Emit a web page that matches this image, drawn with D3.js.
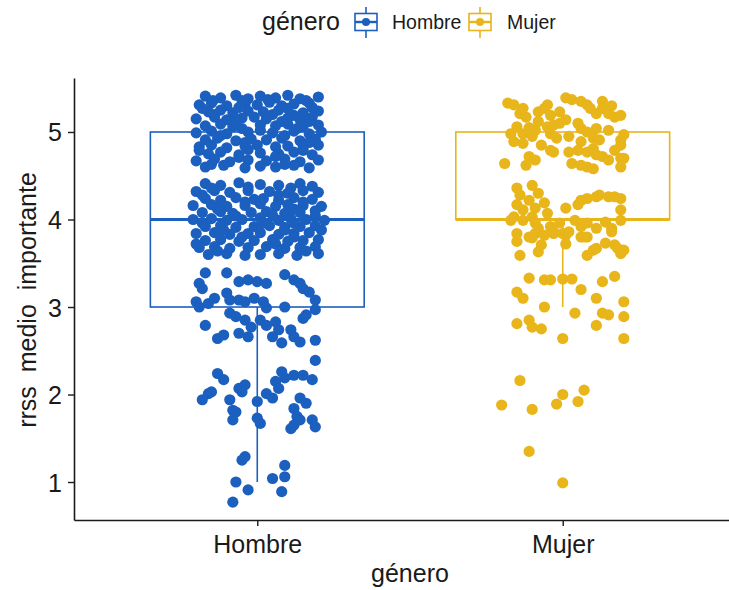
<!DOCTYPE html>
<html><head><meta charset="utf-8">
<script src="https://cdn.jsdelivr.net/npm/d3@7"></script>
<style>
body{margin:0;background:#fff}
text{font-family:"Liberation Sans",Arial,Helvetica,sans-serif;fill:#1a1a1a}
</style>
</head><body><svg id="chart" width="729" height="590"></svg>
<script>
// ---------------- data ----------------
const categories = ["Hombre", "Mujer"];
const yTicks = [1, 2, 3, 4, 5];
const q1 = [3, 4];
const medians = [4, 4];
const q3 = [5, 5];
const whiskerLow = [1, 3];
const whiskerHigh = [5, 5];
const legendTitle = "género";
const xTitle = "género";
const yTitle = "rrss  medio  importante";

// jittered points: [horizontal jitter (fraction of category step), value]
const hombrePoints = [
[-0.17,5.41],[-0.12,5.39],[-0.07,5.42],[-0.03,5.38],[0.01,5.41],[0.06,5.39],[0.10,5.42],[0.14,5.38],[0.20,5.40],
[-0.19,5.31],[-0.15,5.33],[-0.10,5.30],[-0.04,5.32],[0.00,5.31],[0.04,5.34],[0.08,5.30],[0.12,5.32],[0.17,5.33],
[-0.16,5.23],[-0.12,5.25],[-0.08,5.22],[-0.03,5.24],[0.02,5.23],[0.07,5.25],[0.15,5.22],[0.20,5.24],
[-0.20,5.15],[-0.14,5.17],[-0.10,5.14],[-0.05,5.16],[-0.01,5.17],[0.03,5.15],[0.10,5.16],[0.14,5.14],[0.18,5.17],
[-0.17,5.07],[-0.12,5.09],[-0.08,5.06],[0.01,5.08],[0.06,5.07],[0.10,5.09],[0.15,5.06],[0.20,5.08],
[-0.20,4.99],[-0.15,5.01],[-0.10,4.98],[-0.03,5.00],[0.01,5.02],[0.05,4.99],[0.12,5.01],[0.17,4.98],[0.21,5.00],
[-0.17,4.91],[-0.13,4.93],[-0.07,4.90],[-0.02,4.92],[0.03,4.91],[0.08,4.93],[0.14,4.90],[0.19,4.92],
[-0.19,4.83],[-0.15,4.85],[-0.10,4.82],[-0.04,4.84],[0.00,4.85],[0.06,4.83],[0.10,4.84],[0.15,4.82],[0.20,4.85],
[-0.16,4.75],[-0.12,4.77],[-0.06,4.74],[0.01,4.76],[0.07,4.75],[0.12,4.77],[0.18,4.74],
[-0.20,4.67],[-0.14,4.69],[-0.09,4.66],[-0.03,4.68],[0.03,4.67],[0.09,4.69],[0.14,4.66],[0.20,4.68],
[-0.17,4.60],[-0.11,4.62],[-0.04,4.59],[0.01,4.61],[0.06,4.60],[0.12,4.62],[0.17,4.59],
[-0.145,5.36],[-0.05,5.36],[0.035,5.37],[0.16,5.36],[-0.18,5.27],[-0.06,5.28],[0.10,5.27],[0.18,5.28],
[-0.14,5.20],[0.05,5.20],[0.12,5.19],[-0.07,5.12],[0.08,5.12],[0.17,5.12],[-0.05,5.04],[0.13,5.04],
[-0.12,4.96],[0.09,4.96],[-0.04,4.88],[0.17,4.88],[-0.19,4.79],[-0.03,4.80],[0.15,4.79],[-0.06,4.71],
[0.06,4.72],[-0.15,4.63],[0.09,4.63],
[-0.17,4.41],[-0.12,4.39],[-0.06,4.42],[0.01,4.40],[0.07,4.39],[0.14,4.41],[0.18,4.38],
[-0.20,4.32],[-0.14,4.33],[-0.09,4.31],[-0.03,4.33],[0.04,4.32],[0.10,4.30],[0.15,4.33],[0.20,4.31],
[-0.17,4.24],[-0.12,4.22],[-0.07,4.25],[-0.01,4.23],[0.02,4.24],[0.07,4.22],[0.12,4.25],[0.18,4.23],
[-0.21,4.16],[-0.15,4.17],[-0.10,4.15],[-0.04,4.16],[0.01,4.18],[0.06,4.15],[0.10,4.17],[0.15,4.16],[0.21,4.15],
[-0.18,4.08],[-0.12,4.09],[-0.08,4.07],[-0.02,4.08],[0.03,4.09],[0.09,4.07],[0.14,4.08],[0.19,4.10],
[-0.21,4.00],[-0.15,4.01],[-0.10,3.99],[-0.05,4.00],[0.01,4.02],[0.07,3.99],[0.11,4.01],[0.16,4.00],[0.22,3.99],
[-0.17,3.92],[-0.12,3.93],[-0.07,3.91],[-0.01,3.92],[0.04,3.93],[0.09,3.91],[0.14,3.92],[0.19,3.93],
[-0.20,3.84],[-0.14,3.85],[-0.09,3.83],[-0.03,3.84],[0.01,3.85],[0.07,3.83],[0.12,3.84],[0.17,3.85],
[-0.17,3.76],[-0.12,3.77],[-0.06,3.75],[-0.01,3.76],[0.05,3.77],[0.10,3.75],[0.15,3.76],[0.20,3.77],
[-0.19,3.68],[-0.14,3.69],[-0.09,3.67],[-0.03,3.68],[0.03,3.69],[0.09,3.67],[0.14,3.68],[0.19,3.69],
[-0.16,3.60],[-0.10,3.61],[-0.04,3.59],[0.01,3.60],[0.07,3.61],[0.13,3.59],[0.20,3.61],
[-0.15,4.36],[-0.03,4.37],[0.11,4.36],[-0.18,4.28],[0.07,4.28],[-0.04,4.20],[0.15,4.20],[-0.13,4.12],
[0.12,4.12],[-0.07,4.04],[0.05,4.05],[0.19,4.04],[-0.18,3.96],[0.02,3.96],[0.12,3.96],[-0.11,3.88],
[0.09,3.88],[0.21,3.88],[-0.05,3.80],[0.12,3.80],[-0.20,3.72],[0.06,3.72],[-0.13,3.64],[0.16,3.64],
[-0.17,3.39],[-0.10,3.39],[-0.19,3.27],[-0.06,3.29],[-0.03,3.31],[0.00,3.29],[0.03,3.27],[0.09,3.37],[0.12,3.31],
[0.14,3.27],[0.15,3.21],[0.17,3.17],[-0.18,3.21],[-0.14,3.10],[-0.10,3.16],[-0.09,3.08],[-0.06,3.08],[-0.04,3.06],
[-0.20,3.06],[-0.19,3.00],[-0.16,3.04],[-0.01,3.10],[0.02,3.06],[0.03,2.99],[0.09,3.00],[0.19,3.08],[0.19,2.97],
[-0.09,2.93],[-0.17,2.79],[-0.07,2.89],[-0.04,2.85],[-0.02,2.77],[0.01,2.85],[0.03,2.79],[0.06,2.83],[0.15,2.87],
[0.16,2.91],[-0.11,2.68],[-0.13,2.64],[-0.06,2.70],[-0.03,2.66],[0.05,2.66],[0.08,2.59],[0.12,2.66],[0.14,2.60],
[0.19,2.62],[0.07,2.74],[0.11,2.74],
[0.19,2.39],[-0.13,2.24],[-0.11,2.17],[-0.16,2.01],[-0.18,1.94],[-0.15,2.03],[-0.09,1.94],[-0.06,2.07],[-0.04,2.11],
[-0.05,2.03],[0.00,1.92],[0.03,2.01],[0.05,1.96],[0.06,2.15],[0.07,2.07],[0.09,2.19],[0.08,2.26],[0.12,2.22],
[0.15,2.22],[0.18,2.17],[-0.08,1.82],[-0.07,1.80],[-0.08,1.71],[0.00,1.73],[0.01,1.67],[0.12,1.84],[0.14,1.96],
[0.16,1.90],[0.13,1.75],[0.14,1.71],[0.11,1.61],[0.12,1.65],[0.18,1.71],[0.19,1.63],
[-0.05,1.25],[-0.04,1.29],[-0.07,1.00],[-0.03,0.91],[-0.08,0.77],[0.05,1.04],[0.09,1.06],[0.09,1.19],[0.08,0.89]
];

const mujerPoints = [
[-0.18,5.33],[-0.16,5.31],[-0.14,5.21],[-0.12,5.17],[-0.08,5.23],[-0.06,5.27],[-0.05,5.31],[-0.04,5.19],[-0.01,5.23],
[0.01,5.39],[0.03,5.37],[0.06,5.35],[0.08,5.31],[0.09,5.27],[0.11,5.21],[0.13,5.35],[0.13,5.27],[0.15,5.21],
[0.17,5.17],[0.19,5.19],[-0.08,5.12],[-0.05,5.06],[-0.03,5.08],[-0.01,5.10],[0.01,5.14],[0.05,5.10],[0.06,5.04],
[0.08,5.00],[0.11,5.04],[-0.15,5.06],[-0.17,4.98],[-0.13,4.98],[-0.10,4.95],[-0.09,5.02],[-0.04,4.98],[-0.02,4.93],
[0.02,4.95],[0.06,4.89],[0.10,4.93],[0.12,4.91],[0.19,4.91],[0.20,4.97],[0.19,4.85],[-0.16,4.89],[-0.13,4.87],
[-0.07,4.85],[-0.04,4.79],[-0.03,4.77],[0.02,4.77],[0.05,4.79],[0.08,4.77],[0.10,4.81],[0.11,4.74],[0.13,4.72],
[0.17,4.79],[0.19,4.70],[0.20,4.70],[-0.19,4.64],[-0.11,4.72],[-0.09,4.68],[-0.12,4.62],[0.03,4.64],[0.06,4.62],
[0.08,4.60],[0.10,4.58],[0.15,4.68],[0.19,4.60],[-0.13,5.27],[0.16,5.30],[-0.11,5.05],[0.15,5.02],
[-0.15,4.36],[-0.10,4.39],[-0.14,4.28],[-0.08,4.30],[-0.11,4.22],[-0.15,4.17],[-0.13,4.11],[-0.09,4.13],[-0.06,4.19],
[-0.05,4.07],[0.01,4.13],[0.05,4.17],[0.06,4.22],[0.08,4.24],[0.11,4.26],[0.12,4.28],[0.15,4.26],[0.17,4.26],
[0.19,4.24],[0.19,4.11],[-0.17,3.99],[-0.16,4.03],[-0.13,3.99],[-0.10,4.03],[-0.09,3.96],[-0.08,3.90],[-0.04,3.92],
[-0.01,3.96],[0.04,3.99],[0.06,3.92],[0.08,3.96],[0.11,3.90],[0.14,3.97],[0.16,3.90],[0.19,3.99],[-0.15,3.84],
[-0.11,3.80],[-0.09,3.84],[-0.06,3.82],[-0.03,3.84],[0.01,3.82],[0.06,3.80],[0.08,3.80],[-0.10,3.79],[-0.15,3.75],
[-0.03,3.86],[0.00,3.84],[0.02,3.86],[0.07,3.80],[0.16,3.86],[-0.07,3.71],[0.01,3.72],[-0.14,3.59],[-0.08,3.63],
[0.08,3.59],[0.10,3.65],[0.11,3.67],[0.14,3.73],[0.17,3.71],[0.18,3.67],[0.19,3.61],[0.20,3.65],
[-0.11,3.33],[-0.06,3.31],[-0.04,3.31],[0.00,3.32],[0.03,3.32],[0.06,3.20],[0.13,3.29],[0.17,3.35],[-0.15,3.17],
[-0.13,3.10],[-0.06,3.00],[0.04,2.93],[0.11,3.10],[0.20,3.06],[0.13,2.93],[0.15,2.91],[0.20,2.89],[-0.15,2.81],
[-0.11,2.85],[-0.10,2.77],[-0.07,2.75],[0.11,2.79],[0.00,2.64],[0.20,2.64],
[-0.14,2.16],[-0.20,1.88],[-0.10,1.83],[-0.02,1.89],[0.00,2.00],[0.07,2.05],[0.05,1.92],
[-0.11,1.35],[0.00,0.99]
];
const pointSets = [hombrePoints, mujerPoints];

// ---------------- styles ----------------
const colors = ["#1b5fbf", "#e8b51a"];
const svg = d3.select("#chart");

const x = d3.scalePoint().domain(categories).range([74, 746]).padding(0.6);
const y = d3.scaleLinear().domain([0.566, 5.617]).range([520, 78]);
const step = x.step();
const boxW = 0.7 * step;

// boxes
categories.forEach((c, i) => {
  const g = svg.append("g").attr("stroke", colors[i]).attr("fill", "none");
  const cx = x(c);
  g.append("line").attr("x1", cx).attr("x2", cx)
    .attr("y1", y(q1[i])).attr("y2", y(whiskerLow[i])).attr("stroke-width", 1.6);
  g.append("line").attr("x1", cx).attr("x2", cx)
    .attr("y1", y(q3[i])).attr("y2", y(whiskerHigh[i])).attr("stroke-width", 1.6);
  g.append("rect").attr("x", cx - boxW / 2).attr("y", y(q3[i]))
    .attr("width", boxW).attr("height", y(q1[i]) - y(q3[i]))
    .attr("fill", "#fff").attr("stroke-width", 1.6);
  g.append("line").attr("x1", cx - boxW / 2).attr("x2", cx + boxW / 2)
    .attr("y1", y(medians[i])).attr("y2", y(medians[i])).attr("stroke-width", 3.2);
});

// points
categories.forEach((c, i) => {
  svg.append("g").selectAll("circle").data(pointSets[i]).join("circle")
    .attr("cx", d => x(c) + d[0] * step)
    .attr("cy", d => y(d[1]))
    .attr("r", 5.6)
    .attr("fill", colors[i]);
});

// axes
const yAxis = svg.append("g").attr("transform", "translate(74,0)")
  .call(d3.axisLeft(y).tickValues(yTicks).tickFormat(d3.format("d"))
    .tickSize(6).tickSizeOuter(0).tickPadding(6));
const xAxis = svg.append("g").attr("transform", "translate(0,520)")
  .call(d3.axisBottom(x).tickSize(6).tickSizeOuter(0));
[yAxis, xAxis].forEach(a => {
  a.select(".domain").attr("stroke", "#1a1a1a").attr("stroke-width", 1.6);
  a.selectAll(".tick line").attr("stroke", "#1a1a1a").attr("stroke-width", 1.4);
  a.selectAll("text").attr("font-size", 25).attr("fill", "#1a1a1a")
    .style("font-family", '"Liberation Sans",Arial,sans-serif');
});
xAxis.selectAll(".tick text").attr("y", 33).attr("dy", null);
yAxis.selectAll(".tick text").attr("dy", "0.36em");

// axis titles
svg.append("text").attr("x", 410).attr("y", 582).attr("text-anchor", "middle")
  .attr("font-size", 25).text(xTitle);
svg.append("text").attr("transform", "translate(36,300) rotate(-90)")
  .attr("text-anchor", "middle").attr("font-size", 25)
  .attr("xml:space", "preserve").style("white-space", "pre").text(yTitle);

// legend
svg.append("text").attr("x", 262).attr("y", 30).attr("font-size", 25).text(legendTitle);
const keyX = [366, 480];
const labX = [392, 507];
categories.forEach((c, i) => {
  const g = svg.append("g").attr("stroke", colors[i]).attr("fill", "none");
  g.append("line").attr("x1", keyX[i]).attr("x2", keyX[i]).attr("y1", 7).attr("y2", 38).attr("stroke-width", 1.6);
  g.append("rect").attr("x", keyX[i] - 11).attr("y", 13.5).attr("width", 22).attr("height", 17)
    .attr("fill", "#fff").attr("stroke-width", 1.6);
  g.append("line").attr("x1", keyX[i] - 11).attr("x2", keyX[i] + 11).attr("y1", 22).attr("y2", 22).attr("stroke-width", 2.4);
  g.append("circle").attr("cx", keyX[i]).attr("cy", 22).attr("r", 4).attr("fill", colors[i]).attr("stroke", "none");
  svg.append("text").attr("x", labX[i]).attr("y", 29).attr("font-size", 19.5).text(c);
});
</script>
</body></html>
